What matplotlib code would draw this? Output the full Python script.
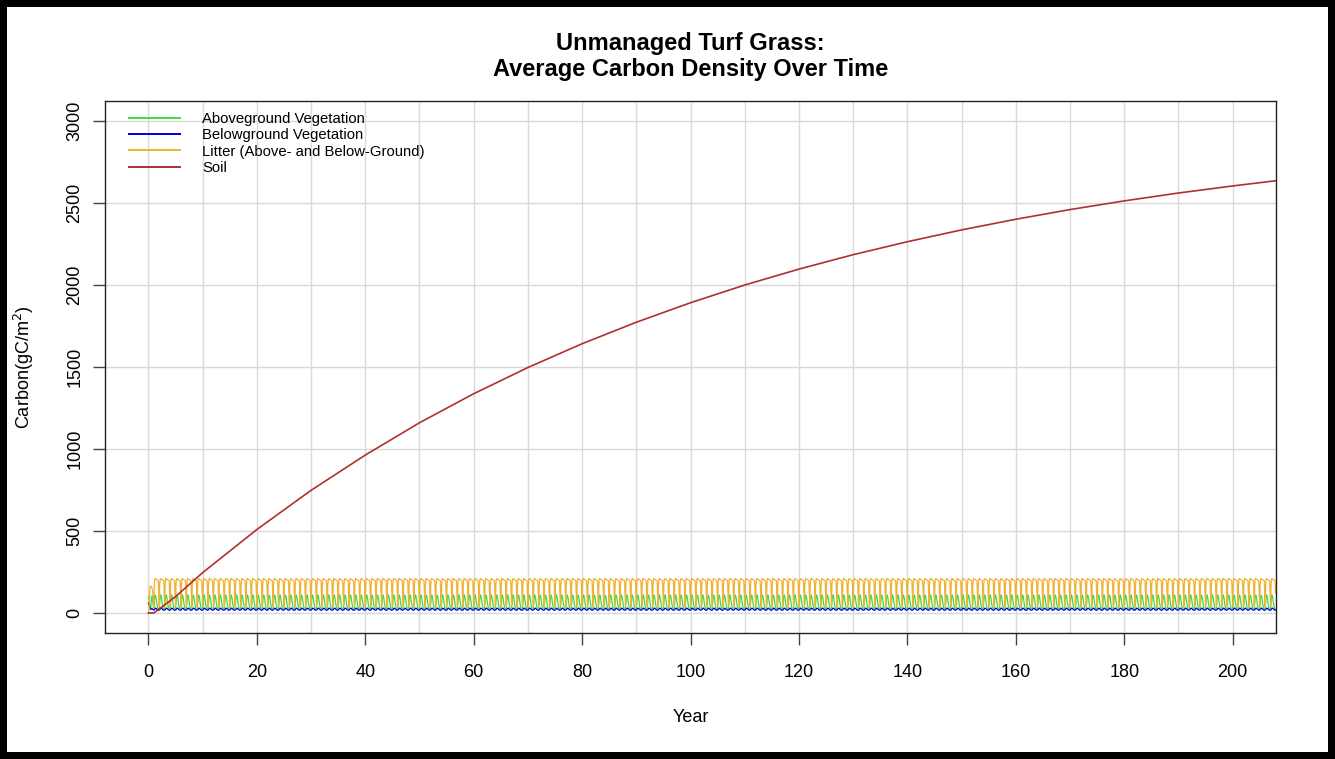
import numpy as np
import matplotlib
matplotlib.use("Agg")
from matplotlib import pyplot as plt

plt.rcParams['font.family'] = ['Liberation Sans', 'DejaVu Sans']

# soil carbon read every ten years (gC/m^2)
soil_years = [0, 1, 5, 10, 20, 30, 40, 50, 60, 70, 80, 90, 100,
              110, 120, 130, 140, 150, 160, 170, 180, 190, 200, 208]
soil = [0, 0, 100, 246, 509, 748, 963, 1160, 1337, 1497, 1642, 1773, 1892,
        2000, 2097, 2185, 2264, 2336, 2401, 2460, 2513, 2561, 2604, 2636]

# monthly values over the first year
agv_first = [100, 95, 60, 40, 30, 28, 60, 95, 105, 90, 60, 35]
bgv_first = [60, 55, 45, 35, 28, 24, 22, 24, 26, 24, 20, 18]
litter_first = [0, 0, 60, 150, 165, 165, 160, 155, 150, 140, 120, 60]

# monthly values over one repeating year
agv_cycle = [30, 60, 100, 110, 105, 90, 70, 50, 35, 28, 25, 25]
bgv_cycle = [18, 20, 24, 28, 30, 28, 25, 22, 20, 18, 17, 17]
litter_cycle = [40, 170, 205, 210, 208, 206, 204, 202, 200, 198, 196, 120]

n_years = 208
labels = ["Aboveground Vegetation", "Belowground Vegetation",
          "Litter (Above- and Below-Ground)", "Soil"]
colors = ["#3ddc3d", "#0000cd", "#f2b134", "#b03030"]


def monthly(first, cycle):
    return np.concatenate([first, np.tile(cycle, n_years - 1)])


def main():
    t = np.arange(12 * n_years) / 12.0
    agv = monthly(agv_first, agv_cycle)
    bgv = monthly(bgv_first, bgv_cycle)
    litter = monthly(litter_first, litter_cycle)

    fig = plt.figure(figsize=(13.35, 7.59), dpi=100)
    ax = fig.add_axes([0.0787, 0.166, 0.8771, 0.7009])

    ax.plot(t, agv, color=colors[0], lw=0.9, label=labels[0])
    ax.plot(t, bgv, color=colors[1], lw=0.9, label=labels[1])
    ax.plot(t, litter, color=colors[2], lw=0.9, label=labels[2])
    ax.plot(soil_years, soil, color=colors[3], lw=1.2, label=labels[3])

    ax.set_xlim(-8, 208)
    ax.set_ylim(-122, 3122)
    ax.set_xticks(np.arange(0, 201, 20))
    ax.set_yticks(np.arange(0, 3001, 500))
    ax.set_xticks(np.arange(0, 201, 10), minor=True)
    ax.tick_params(which='minor', length=0)
    ax.grid(True, which='both', axis='x', color='#d9d9d9', lw=1.0)
    ax.grid(True, which='major', axis='y', color='#d9d9d9', lw=1.0)
    ax.set_axisbelow(True)

    ax.tick_params(which='major', direction='out', length=8.5, width=1.0,
                   color='#444444', labelsize=13)
    ax.tick_params(axis='x', pad=14)
    ax.tick_params(axis='y', pad=7)
    for lab in ax.get_yticklabels():
        lab.set_rotation(90)
        lab.set_va('center')
    for sp in ax.spines.values():
        sp.set_linewidth(1.0)
        sp.set_color('#222222')

    ax.set_xlabel("Year", fontsize=13, labelpad=20)
    ax.set_ylabel("Carbon(gC/m$^2$)", fontsize=13, labelpad=22)
    ax.set_title("Unmanaged Turf Grass:\nAverage Carbon Density Over Time",
                 fontsize=17, fontweight='bold', pad=18, linespacing=1.15)

    leg = ax.legend(loc='upper left', frameon=False, fontsize=10.7,
                    handlelength=3.4, handletextpad=1.5, labelspacing=0.16,
                    borderaxespad=0.0, bbox_to_anchor=(0.0155, 0.991))
    for line in leg.get_lines():
        line.set_linewidth(1.4)

    fig.patch.set_edgecolor('black')
    fig.patch.set_linewidth(10)
    fig.savefig("out.png", dpi=100, edgecolor=fig.get_edgecolor())


if __name__ == '__main__':
    main()
